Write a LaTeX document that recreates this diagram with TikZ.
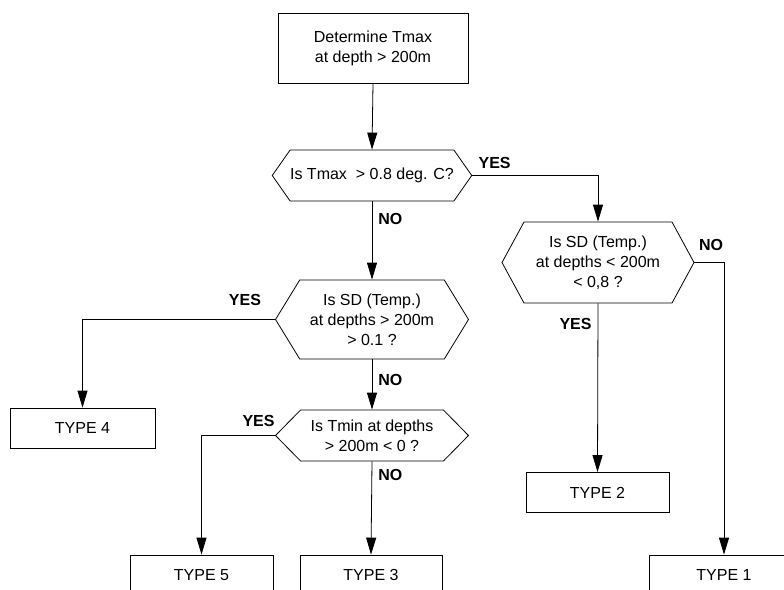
\documentclass[tikz,border=0pt]{standalone}
\usepackage{fontspec}
\setmainfont{Liberation Sans}
\usetikzlibrary{shapes,arrows.meta,positioning}

\begin{document}
\begin{tikzpicture}[x=1pt,y=-1pt,line width=0.8pt,font=\fontsize{16}{20}\selectfont]
    \tikzstyle{box} = [draw,rectangle,minimum width=143pt,minimum height=40pt,inner sep=0pt]
    \tikzstyle{query} = [draw,signal,signal to=west and east,align=center,inner sep=0pt]
    \tikzstyle{answer} = [font=\fontsize{16}{20}\selectfont\bfseries,inner sep=6pt]
    \tikzstyle{flow} = [-{Triangle[width=10pt,length=17pt]}]
    \clip (0,0) rectangle (784,589);
    \node[box,minimum width=190pt,minimum height=70pt,align=center] (tmax) at (373,48) {Determine Tmax\\ at depth > 200m};
    \node[query,minimum width=188pt,minimum height=51pt,signal pointer angle=110] (tmaxq) at (372,175.5) {Is Tmax\ \ > 0.8 deg. C?};
    \node[query,minimum width=192pt,minimum height=81pt,signal pointer angle=123] (sdshallow) at (598,262.5) {Is SD (Temp.)\\ at depths < 200m\\ < 0,8 ?};
    \node[query,minimum width=193pt,minimum height=79pt,signal pointer angle=117] (sddeep) at (372,319.5) {Is SD (Temp.)\\ at depths > 200m\\ > 0.1 ?};
    \node[query,minimum width=193pt,minimum height=51pt,signal pointer angle=91] (tminq) at (372,435.5) {Is Tmin at depths\\ > 200m < 0 ?};
    \node[box,minimum width=145pt] (type4) at (82.5,428) {TYPE 4};
    \node[box] (type2) at (597.5,492.5) {TYPE 2};
    \node[box] (type5) at (201.5,575) {TYPE 5};
    \node[box,minimum width=142pt] (type3) at (371,575) {TYPE 3};
    \node[box,minimum width=150pt] (type1) at (724,575) {TYPE 1};
    % connectors
    \draw[flow] (tmax.south) -- (tmaxq.north);
    \draw[flow] (tmaxq.east) -| node[answer,anchor=south west,pos=0] {YES} (sdshallow.north);
    \draw[flow] (tmaxq.south) -- node[answer,right,pos=0.22] {NO} (sddeep.north);
    \draw[flow] (sdshallow.east) -| node[answer,anchor=south,pos=0.28,yshift=5pt] {NO} (type1.north);
    \draw[flow] (sdshallow.south) -- node[answer,left,pos=0.12] {YES} (type2.north);
    \draw[flow] (sddeep.west) -| node[answer,anchor=south,pos=0.078,yshift=7pt] {YES} (type4.north);
    \draw[flow] (sddeep.south) -- node[answer,right,pos=0.41] {NO} (tminq.north);
    \draw[flow] (tminq.west) -| node[answer,anchor=south east,pos=0,xshift=6pt,yshift=2pt] {YES} (type5.north);
    \draw[flow] (tminq.south) -- node[answer,right,pos=0.15] {NO} (type3.north);
\end{tikzpicture}
\end{document}
